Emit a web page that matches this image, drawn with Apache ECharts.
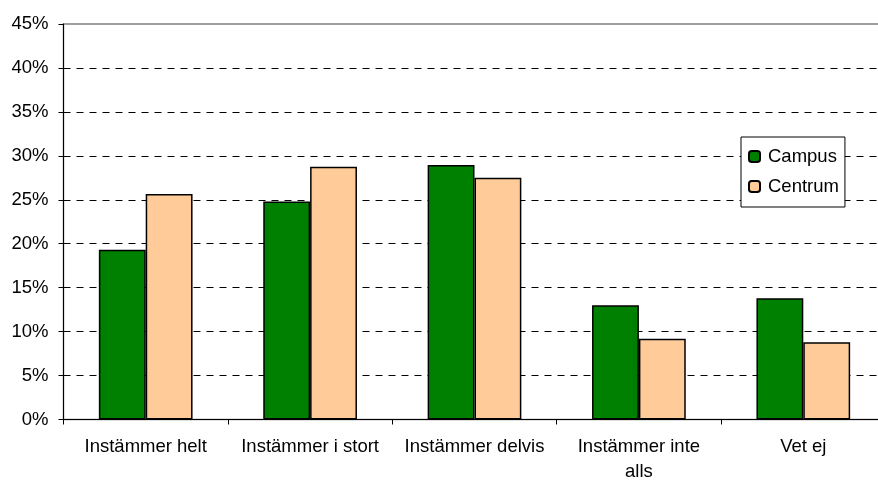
<!DOCTYPE html>
<html>
<head>
  <meta charset="UTF-8">
  <title>Instämmer</title>
  <script src="https://cdn.jsdelivr.net/npm/echarts@6/dist/echarts.min.js"></script>
  <style>
    html, body { margin: 0; padding: 0; background: #fff; }
    #main { width: 878px; height: 480px; }
  </style>
</head>
<body>
<div id="main"></div>
<script type="text/javascript">
  var categories = ['Instämmer helt', 'Instämmer i stort', 'Instämmer delvis', 'Instämmer inte\nalls', 'Vet ej'];
  var campus = [19.3, 24.8, 28.95, 13.0, 13.8];
  var centrum = [25.65, 28.75, 27.5, 9.2, 8.8];

  var font = 'Liberation Sans, Arial, sans-serif';

  var myChart = echarts.init(document.getElementById('main'));

  var option = {
    animation: false,
    textStyle: { fontFamily: font },
    grid: {
      left: 63.5, width: 822, top: 24, bottom: 60.5, containLabel: false,
      outerBoundsMode: 'none',
      show: true, borderColor: '#808080', borderWidth: 1.5
    },
    legend: {
      orient: 'vertical',
      left: 741,
      top: 137,
      padding: [9, 6, 10, 7],
      itemGap: 9,
      itemWidth: 11,
      itemHeight: 11,
      borderColor: '#000',
      borderWidth: 1,
      backgroundColor: '#fff',
      textStyle: { fontFamily: font, fontSize: 18.5, lineHeight: 21, color: '#000', padding: [0, 0, 0, 3] },
      data: ['Campus', 'Centrum']
    },
    xAxis: {
      type: 'category',
      data: categories,
      axisLine: { lineStyle: { color: '#000' } },
      axisTick: { show: true, interval: 0, length: 5, lineStyle: { color: '#000' } },
      axisLabel: { interval: 0, color: '#000', fontSize: 18.5, margin: 15, lineHeight: 25, fontFamily: font }
    },
    yAxis: {
      type: 'value',
      min: 0,
      max: 45,
      interval: 5,
      axisLine: { show: true, lineStyle: { color: '#000' } },
      axisTick: { show: true, length: 5, inside: false, lineStyle: { color: '#000' } },
      axisLabel: { color: '#000', fontSize: 18.5, margin: 15, formatter: '{value}%', fontFamily: font },
      splitLine: { show: true, showMaxLine: false, lineStyle: { color: '#000', type: [7, 6], width: 1 } }
    },
    series: [
      {
        name: 'Campus',
        type: 'bar',
        data: campus,
        barGap: '0%',
        barCategoryGap: '43%',
        itemStyle: { color: '#008000', borderColor: '#000', borderWidth: 1.5 }
      },
      {
        name: 'Centrum',
        type: 'bar',
        data: centrum,
        itemStyle: { color: '#ffcc99', borderColor: '#000', borderWidth: 1.5 }
      }
    ]
  };

  myChart.setOption(option);
</script>
</body>
</html>
